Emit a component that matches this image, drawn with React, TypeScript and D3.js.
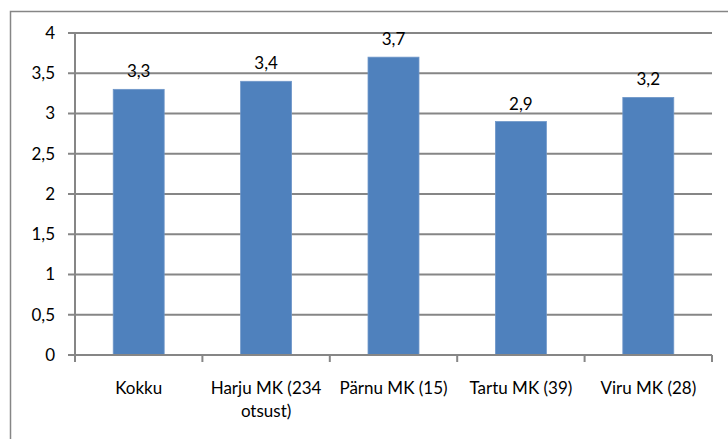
import React from "react";
import * as d3 from "d3";

const categories: string[][] = [["Kokku"], ["Harju MK (234", "otsust)"], ["Pärnu MK (15)"], ["Tartu MK (39)"], ["Viru MK (28)"]];
const values: number[] = [3.3, 3.4, 3.7, 2.9, 3.2];
const yTicks: number[] = [0, 0.5, 1, 1.5, 2, 2.5, 3, 3.5, 4];

const fmt = (v: number) => String(v).replace(".", ",");

export default function App() {
  const W = 728, H = 439;
  const left = 75, right = 712, top = 33, bottom = 355;
  const x = d3.scaleBand<number>().domain(d3.range(values.length)).range([left, right]).paddingInner(0.6).paddingOuter(0.3);
  const xb = d3.scaleBand<number>().domain(d3.range(values.length)).range([left, right]);
  const y = d3.scaleLinear().domain([0, 4]).range([bottom, top]);
  const font = "Lato, 'Open Sans', sans-serif";
  const fs = 17;
  const grid = "#868686";
  return (
    <svg width={W} height={H} style={{ position: "absolute", left: 0, top: 0 }} fontFamily={font}>
      <rect x={0} y={0} width={W} height={H} fill="#fff" />
      <rect x={10.5} y={11.5} width={W + 10} height={H + 10} fill="none" stroke={grid} strokeWidth={1.5} />
      {yTicks.map((t) => (
        <g key={t}>
          <line x1={68} x2={right} y1={y(t)} y2={y(t)} stroke={grid} strokeWidth={2} />
          <text x={55} y={y(t)} dy="0.35em" textAnchor="end" fontSize={fs} fill="#000">{fmt(t)}</text>
        </g>
      ))}
      {values.map((v, i) => (
        <g key={i}>
          <rect x={x(i)!} y={y(v)} width={x.bandwidth()} height={bottom - y(v)} fill="#4F81BD" stroke="#6F97C9" strokeWidth={0.8} />
          <text x={x(i)! + x.bandwidth() / 2} y={y(v) - 12} textAnchor="middle" fontSize={fs} fill="#000">{fmt(v)}</text>
        </g>
      ))}
      <line x1={left} x2={left} y1={top} y2={bottom + 7} stroke={grid} strokeWidth={2} />
      <line x1={left} x2={right} y1={bottom} y2={bottom} stroke={grid} strokeWidth={2} />
      {d3.range(values.length + 1).map((i) => {
        const tx = i < values.length ? xb(i)! : right;
        return <line key={i} x1={tx} x2={tx} y1={bottom} y2={bottom + 7} stroke={grid} strokeWidth={2} />;
      })}
      {categories.map((lines, i) => (
        <text key={i} x={xb(i)! + xb.bandwidth() / 2} y={394} textAnchor="middle" fontSize={fs} fill="#000">
          {lines.map((l, j) => (
            <tspan key={j} x={xb(i)! + xb.bandwidth() / 2} dy={j === 0 ? 0 : 23}>{l}</tspan>
          ))}
        </text>
      ))}
    </svg>
  );
}
